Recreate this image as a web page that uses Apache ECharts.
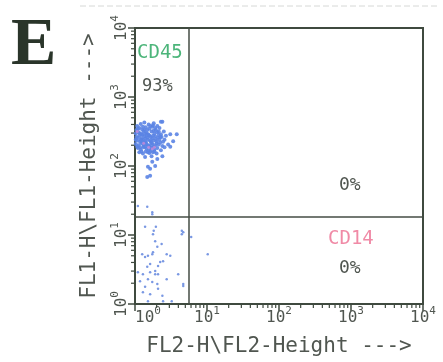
<!DOCTYPE html>
<html lang="en">
<head>
<meta charset="UTF-8">
<title>FL1 / FL2 dot plot</title>
<script src="https://cdn.jsdelivr.net/npm/echarts@6/dist/echarts.min.js"></script>
<style>
    html, body, #chart {
        width: 100%;
        height: 100%;
        margin: 0;
        padding: 0;
        background: #fff;
    }
</style>
</head>
<body>
<div id="chart"></div>
<script>
    // values are log10 of channel (decades 0..4)
    var decades = [0, 1, 2, 3, 4];
    var minorMult = [2, 3, 4, 5, 6, 7, 8, 9];
    var gateX = 0.75;   // FL2 quadrant gate
    var gateY = 1.275;  // FL1 quadrant gate

    // CD45+ cluster [FL2, FL1]
    var clusterPts = [
        [0.03, 2.58], [0.08, 2.61], [0.13, 2.63], [0.19, 2.60], [0.26, 2.62], [0.31, 2.58], [0.36, 2.64],
        [0.02, 2.52], [0.06, 2.55], [0.10, 2.53], [0.15, 2.56], [0.20, 2.54], [0.24, 2.57], [0.29, 2.52], [0.34, 2.55],
        [0.01, 2.47], [0.05, 2.49], [0.09, 2.46], [0.12, 2.50], [0.16, 2.48], [0.19, 2.45], [0.23, 2.50], [0.27, 2.47],
        [0.31, 2.49], [0.36, 2.46], [0.40, 2.50],
        [0.02, 2.42], [0.06, 2.44], [0.09, 2.40], [0.13, 2.43], [0.17, 2.41], [0.20, 2.44], [0.24, 2.40], [0.28, 2.43],
        [0.32, 2.41], [0.37, 2.42], [0.43, 2.44],
        [0.03, 2.37], [0.07, 2.35], [0.11, 2.38], [0.14, 2.36], [0.18, 2.38], [0.22, 2.35], [0.26, 2.37], [0.30, 2.36],
        [0.34, 2.38], [0.39, 2.35],
        [0.01, 2.32], [0.05, 2.30], [0.09, 2.33], [0.12, 2.31], [0.16, 2.32], [0.20, 2.29], [0.24, 2.32], [0.28, 2.30],
        [0.33, 2.31], [0.38, 2.29], [0.46, 2.31],
        [0.04, 2.26], [0.08, 2.24], [0.12, 2.27], [0.16, 2.25], [0.19, 2.23], [0.23, 2.26], [0.27, 2.24], [0.31, 2.26],
        [0.36, 2.23],
        [0.06, 2.20], [0.11, 2.18], [0.15, 2.21], [0.20, 2.19], [0.25, 2.20], [0.30, 2.18],
        [0.10, 2.45], [0.14, 2.40], [0.18, 2.46], [0.22, 2.42], [0.15, 2.34], [0.21, 2.37], [0.25, 2.44], [0.08, 2.38],
        [0.12, 2.29], [0.18, 2.30], [0.26, 2.28], [0.04, 2.41], [0.29, 2.39], [0.17, 2.52], [0.11, 2.57], [0.07, 2.27],
        [0.22, 2.22], [0.33, 2.45], [0.01, 2.38], [0.14, 2.47],
        [0.04, 2.54], [0.21, 2.58], [0.28, 2.55], [0.33, 2.50], [0.07, 2.47], [0.13, 2.52], [0.26, 2.51],
        [0.35, 2.42], [0.41, 2.38], [0.16, 2.44], [0.10, 2.35], [0.23, 2.33], [0.30, 2.33], [0.35, 2.34],
        [0.03, 2.28], [0.14, 2.28], [0.22, 2.27], [0.09, 2.21], [0.18, 2.20], [0.27, 2.21], [0.41, 2.27],
        [0.25, 2.59], [0.38, 2.64], [0.49, 2.46], [0.58, 2.46], [0.53, 2.36], [0.49, 2.28], [0.38, 2.14], [0.31, 2.10],
        [0.24, 2.06], [0.18, 1.99], [0.28, 2.00], [0.21, 1.86], [0.17, 1.84], [0.21, 1.96], [0.14, 2.13], [0.23, 2.14]
    ];
    var pinkPts = [[0.24, 2.25], [0.03, 2.50], [0.12, 2.33], [0.19, 2.27], [0.27, 2.27]];

    // scattered low events
    var lowPts = [
        [0.04, 1.42], [0.17, 1.41], [0.24, 1.33], [0.24, 1.30],
        [0.14, 1.12], [0.29, 1.12], [0.26, 1.06], [0.65, 1.06], [0.67, 1.04],
        [0.25, 1.01], [0.65, 1.01], [0.78, 0.97], [0.28, 0.91], [0.37, 0.87], [0.31, 0.83],
        [0.10, 0.72], [0.18, 0.70], [0.24, 0.72], [0.25, 0.75], [0.14, 0.68], [0.44, 0.72], [0.49, 0.70], [1.01, 0.72],
        [0.39, 0.62], [0.35, 0.61], [0.32, 0.55], [0.21, 0.58], [0.17, 0.54],
        [0.28, 0.48], [0.04, 0.46], [0.11, 0.43], [0.21, 0.46], [0.28, 0.43], [0.32, 0.43], [0.60, 0.43],
        [0.44, 0.36], [0.07, 0.33], [0.18, 0.36], [0.24, 0.32], [0.31, 0.29], [0.67, 0.29], [0.67, 0.26],
        [0.14, 0.25], [0.32, 0.22], [0.11, 0.17], [0.21, 0.14], [0.38, 0.12],
        [0.18, 0.04], [0.39, 0.04], [0.51, 0.04]
    ];

    var axisColor = "#3f4a3f";
    var textColor = "#505650";
    var mono = "DejaVu Sans Mono";

    var minorTicks = [];
    decades.slice(0, 4).forEach(function (d) {
        minorMult.forEach(function (m) {
            minorTicks.push(d + Math.log10(m));
        });
    });

    function decadeLabel(v) {
        return "{b|10}{s|" + v + "}";
    }
    var labelRich = {
        b: {fontFamily: mono, fontSize: 16, lineHeight: 20, color: textColor, verticalAlign: "bottom"},
        s: {fontFamily: mono, fontSize: 11, lineHeight: 11, color: textColor, verticalAlign: "top"}
    };

    var chart = echarts.init(document.getElementById("chart"));
    chart.setOption({
        animation: false,
        grid: {
            left: 135, right: 20, top: 28, bottom: 57,
            show: true, borderColor: axisColor, borderWidth: 2
        },
        xAxis: {
            type: "value",
            min: 0, max: 4, interval: 1,
            name: "FL2-H\\FL2-Height --->",
            nameLocation: "middle",
            nameGap: 32,
            nameTextStyle: {fontFamily: mono, fontSize: 21, color: textColor},
            axisLine: {lineStyle: {color: axisColor, width: 2}},
            axisTick: {length: 7, lineStyle: {color: axisColor, width: 1.5}},
            splitLine: {show: false},
            axisLabel: {margin: 2, formatter: decadeLabel, rich: labelRich, alignMinLabel: "left"}
        },
        yAxis: {
            type: "value",
            min: 0, max: 4, interval: 1,
            name: "FL1-H\\FL1-Height --->",
            nameLocation: "middle",
            nameGap: 35,
            nameTextStyle: {fontFamily: mono, fontSize: 21, color: textColor},
            axisLine: {lineStyle: {color: axisColor, width: 2}},
            axisTick: {length: 7, lineStyle: {color: axisColor, width: 1.5}},
            splitLine: {show: false},
            axisLabel: {margin: 5, rotate: 90, formatter: decadeLabel, rich: labelRich}
        },
        series: [{
            type: "scatter",
            data: clusterPts,
            symbolSize: 4,
            itemStyle: {color: "#5b84e4", opacity: 0.9},
            markLine: {
                silent: true,
                symbol: "none",
                label: {show: false},
                lineStyle: {color: "#454c45", width: 1.5, type: "solid"},
                data: [{xAxis: gateX}, {yAxis: gateY}]
            }
        }, {
            type: "scatter",
            data: pinkPts,
            symbolSize: 3,
            itemStyle: {color: "#c98ad8"}
        }, {
            type: "scatter",
            data: lowPts,
            symbolSize: 2.5,
            itemStyle: {color: "#6c8de0", opacity: 0.9}
        }, {
            // log minor ticks on x axis
            type: "custom",
            data: minorTicks,
            encode: {x: 0},
            silent: true,
            renderItem: function (params, api) {
                var p = api.coord([api.value(0), 0]);
                return {
                    type: "line",
                    shape: {x1: p[0], y1: p[1], x2: p[0], y2: p[1] + 4},
                    style: {stroke: axisColor, lineWidth: 1.2}
                };
            }
        }, {
            // log minor ticks on y axis
            type: "custom",
            data: minorTicks.map(function (v) { return [0, v]; }),
            encode: {x: 0, y: 1},
            silent: true,
            renderItem: function (params, api) {
                var p = api.coord([0, api.value(1)]);
                return {
                    type: "line",
                    shape: {x1: p[0] - 4, y1: p[1], x2: p[0], y2: p[1]},
                    style: {stroke: axisColor, lineWidth: 1.2}
                };
            }
        }],
        graphic: [
            {type: "line", shape: {x1: 80, y1: 6, x2: 440, y2: 6}, style: {stroke: "#d6d8d6", lineWidth: 1, lineDash: [6, 3]}},
            {type: "text", left: 11, top: 12, style: {text: "E", fontFamily: "Liberation Serif", fontWeight: "bold", fontSize: 68, fill: "#2a352a"}},
            {type: "text", left: 137, top: 44, style: {text: "CD45", fontFamily: mono, fontSize: 19, fill: "#4cb57a"}},
            {type: "text", left: 142, top: 78, style: {text: "93%", fontFamily: mono, fontSize: 17, fill: textColor}},
            {type: "text", left: 339, top: 176, style: {text: "0%", fontFamily: mono, fontSize: 18, fill: textColor}},
            {type: "text", left: 328, top: 230, style: {text: "CD14", fontFamily: mono, fontSize: 19, fill: "#f08aa6"}},
            {type: "text", left: 339, top: 259, style: {text: "0%", fontFamily: mono, fontSize: 18, fill: textColor}}
        ]
    });
</script>
</body>
</html>
